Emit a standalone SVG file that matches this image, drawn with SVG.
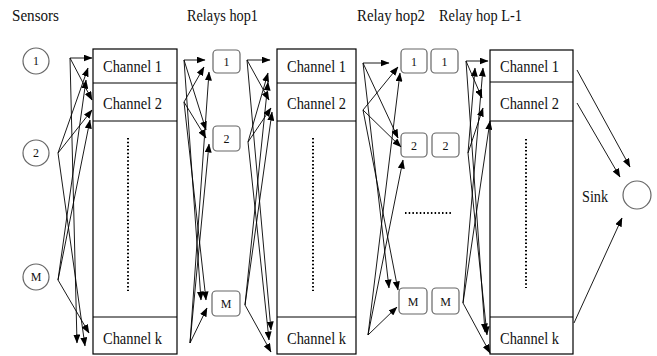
<svg xmlns="http://www.w3.org/2000/svg" width="657" height="356" viewBox="0 0 657 356">
<style>
text{font-family:"Liberation Serif","Times New Roman",serif;fill:#111}
.t{font-size:16px}
.n{font-size:12px;text-anchor:middle}
.box{fill:#fff;stroke:#000;stroke-width:1.2}
.rr{fill:#fff;stroke:#666;stroke-width:1.2}
.cir{fill:#fff;stroke:#666;stroke-width:1.2}
.dot{stroke:#000;stroke-width:2;stroke-dasharray:1.5 2.2;fill:none}
#connectors line{stroke:#000;stroke-width:0.9;marker-end:url(#ah)}
</style>
<defs>
<marker id="ah" markerWidth="9" markerHeight="7" refX="8.5" refY="3.5" orient="auto" markerUnits="userSpaceOnUse">
<path d="M0,0 L9,3.5 L0,7 Z" fill="#000"/>
</marker>
</defs>
<rect width="657" height="356" fill="#fff"/>

<text class="t" x="12" y="21" textLength="47" lengthAdjust="spacingAndGlyphs">Sensors</text>
<text class="t" x="187" y="21" textLength="71" lengthAdjust="spacingAndGlyphs">Relays hop1</text>
<text class="t" x="357" y="21" textLength="68" lengthAdjust="spacingAndGlyphs">Relay hop2</text>
<text class="t" x="439" y="21" textLength="83" lengthAdjust="spacingAndGlyphs">Relay hop L-1</text>

<g id="sensor1"><circle class="cir" cx="36" cy="61" r="13"/><text class="n" x="36" y="65">1</text></g>
<g id="sensor2"><circle class="cir" cx="36" cy="153" r="13"/><text class="n" x="36" y="157">2</text></g>
<g id="sensorM"><circle class="cir" cx="36" cy="277" r="13"/><text class="n" x="36" y="281" font-size="11">M</text></g>

<g id="channels1">
<rect class="box" x="93" y="49" width="84" height="305"/>
<line x1="93" y1="83" x2="177" y2="83" stroke="#000"/>
<line x1="93" y1="121" x2="177" y2="121" stroke="#000"/>
<line x1="93" y1="317" x2="177" y2="317" stroke="#000"/>
<line class="dot" x1="128" y1="138" x2="128" y2="291"/>
<text class="t" x="103" y="72" textLength="59" lengthAdjust="spacingAndGlyphs">Channel 1</text>
<text class="t" x="103" y="109" textLength="59" lengthAdjust="spacingAndGlyphs">Channel 2</text>
<text class="t" x="103" y="344" textLength="59" lengthAdjust="spacingAndGlyphs">Channel k</text>
</g>

<g id="relay1_1"><rect class="rr" x="213" y="50" width="27" height="23" rx="4"/><text class="n" x="226.5" y="66">1</text></g>
<g id="relay1_2"><rect class="rr" x="213" y="126" width="27" height="25" rx="4"/><text class="n" x="226.5" y="143">2</text></g>
<g id="relay1_M"><rect class="rr" x="212" y="291" width="28" height="25" rx="4"/><text class="n" x="226" y="308" font-size="11">M</text></g>

<g id="channels2">
<rect class="box" x="277" y="49" width="79" height="305"/>
<line x1="277" y1="83" x2="356" y2="83" stroke="#000"/>
<line x1="277" y1="121" x2="356" y2="121" stroke="#000"/>
<line x1="277" y1="317" x2="356" y2="317" stroke="#000"/>
<line class="dot" x1="313" y1="138" x2="313" y2="291"/>
<text class="t" x="287" y="72" textLength="59" lengthAdjust="spacingAndGlyphs">Channel 1</text>
<text class="t" x="287" y="109" textLength="59" lengthAdjust="spacingAndGlyphs">Channel 2</text>
<text class="t" x="287" y="344" textLength="59" lengthAdjust="spacingAndGlyphs">Channel k</text>
</g>

<g id="relay2_1"><rect class="rr" x="401" y="49" width="26" height="24" rx="4"/><text class="n" x="414" y="66">1</text></g>
<g id="relay2_2"><rect class="rr" x="401" y="133" width="26" height="24" rx="4"/><text class="n" x="414" y="150">2</text></g>
<g id="relay2_M"><rect class="rr" x="399" y="288" width="28" height="26" rx="4"/><text class="n" x="413" y="306" font-size="11">M</text></g>
<g id="relayL_1"><rect class="rr" x="431" y="49" width="27" height="24" rx="4"/><text class="n" x="444.5" y="66">1</text></g>
<g id="relayL_2"><rect class="rr" x="432" y="133" width="27" height="24" rx="4"/><text class="n" x="445.5" y="150">2</text></g>
<g id="relayL_M"><rect class="rr" x="432" y="288" width="27" height="26" rx="4"/><text class="n" x="445.5" y="306" font-size="11">M</text></g>
<line class="dot" x1="405" y1="213" x2="451" y2="213"/>

<g id="channels3">
<rect class="box" x="490" y="50" width="83" height="304"/>
<line x1="490" y1="82" x2="573" y2="82" stroke="#000"/>
<line x1="490" y1="121" x2="573" y2="121" stroke="#000"/>
<line x1="490" y1="317" x2="573" y2="317" stroke="#000"/>
<line class="dot" x1="526" y1="139" x2="526" y2="288"/>
<text class="t" x="500" y="72" textLength="59" lengthAdjust="spacingAndGlyphs">Channel 1</text>
<text class="t" x="500" y="109" textLength="59" lengthAdjust="spacingAndGlyphs">Channel 2</text>
<text class="t" x="500" y="344" textLength="59" lengthAdjust="spacingAndGlyphs">Channel k</text>
</g>

<g id="sink"><circle class="cir" cx="637" cy="195" r="14"/><text class="t" x="582" y="202" textLength="26" lengthAdjust="spacingAndGlyphs">Sink</text></g>

<g id="connectors">
<line x1="70" y1="58" x2="92" y2="58"/>
<line x1="70" y1="58" x2="92" y2="100"/>
<line x1="70" y1="58" x2="77" y2="343"/>
<line x1="58" y1="153" x2="88" y2="68"/>
<line x1="58" y1="153" x2="92" y2="110"/>
<line x1="58" y1="153" x2="85" y2="346"/>
<line x1="58" y1="280" x2="86" y2="80"/>
<line x1="58" y1="280" x2="90" y2="120"/>
<line x1="58" y1="280" x2="89" y2="333"/>

<line x1="184" y1="60" x2="205" y2="60"/>
<line x1="184" y1="60" x2="206" y2="130"/>
<line x1="184" y1="60" x2="201" y2="300"/>
<line x1="184" y1="102" x2="204" y2="67"/>
<line x1="184" y1="102" x2="206" y2="138"/>
<line x1="184" y1="102" x2="206" y2="300"/>
<line x1="190" y1="343" x2="209" y2="72"/>
<line x1="190" y1="343" x2="209" y2="144"/>
<line x1="190" y1="343" x2="207" y2="308"/>

<line x1="247" y1="60" x2="270" y2="60"/>
<line x1="247" y1="60" x2="269" y2="100"/>
<line x1="247" y1="60" x2="271" y2="330"/>
<line x1="248" y1="142" x2="268" y2="73"/>
<line x1="248" y1="142" x2="271" y2="108"/>
<line x1="248" y1="142" x2="269" y2="340"/>
<line x1="245" y1="305" x2="268" y2="82"/>
<line x1="245" y1="305" x2="272" y2="112"/>
<line x1="245" y1="305" x2="271" y2="352"/>

<line x1="363" y1="63" x2="389" y2="63"/>
<line x1="363" y1="63" x2="398" y2="138"/>
<line x1="363" y1="63" x2="389" y2="288"/>
<line x1="363" y1="110" x2="398" y2="67"/>
<line x1="363" y1="110" x2="401" y2="147"/>
<line x1="363" y1="110" x2="398" y2="290"/>
<line x1="368" y1="335" x2="400" y2="73"/>
<line x1="368" y1="335" x2="403" y2="160"/>
<line x1="368" y1="335" x2="397" y2="307"/>

<line x1="466" y1="61" x2="488" y2="61"/>
<line x1="466" y1="61" x2="482" y2="98"/>
<line x1="466" y1="61" x2="485" y2="332"/>
<line x1="468" y1="153" x2="475" y2="68"/>
<line x1="468" y1="153" x2="483" y2="108"/>
<line x1="468" y1="153" x2="487" y2="335"/>
<line x1="463" y1="303" x2="483" y2="68"/>
<line x1="463" y1="303" x2="490" y2="121"/>
<line x1="463" y1="303" x2="490" y2="353"/>

<line x1="577" y1="70" x2="630" y2="167"/>
<line x1="577" y1="103" x2="620" y2="177"/>
<line x1="574" y1="323" x2="622" y2="218"/>
</g>
</svg>
